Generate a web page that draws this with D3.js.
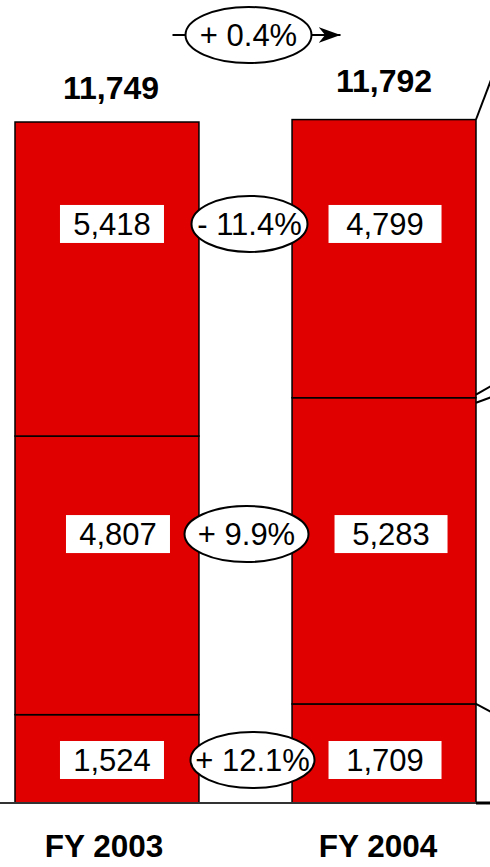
<!DOCTYPE html>
<html>
<head>
<meta charset="utf-8">
<script src="https://cdn.jsdelivr.net/npm/d3@7"></script>
<style>
  html, body { margin: 0; padding: 0; background: #fff; }
  svg { display: block; font-family: "Liberation Sans", Arial, sans-serif; }
</style>
</head>
<body>
<svg id="chart"></svg>
<script>
// data
const years = ["FY 2003", "FY 2004"];
const bottomValues = [1524, 1709];
const middleValues = [4807, 5283];
const topValues = [5418, 4799];
const totals = [11749, 11792];
const rowChanges = ["+ 12.1%", "+ 9.9%", "- 11.4%"]; // bottom, middle, top
const totalChange = "+ 0.4%";

const width = 490, height = 867;
const baseY = 803;

const svg = d3.select("#chart").attr("width", width).attr("height", height);

const x = d3.scaleBand().domain(years).range([15, 476]).paddingInner(0.336).paddingOuter(0);
const y = d3.scaleLinear().domain([0, 13854]).range([baseY, 0]);

// build stacked rows
const rows = [bottomValues, middleValues, topValues];
const stackData = years.map((yr, i) => {
  let acc = 0;
  return rows.map((vals, r) => {
    const seg = { year: yr, row: r, y0: acc, y1: acc + vals[i], value: vals[i], bar: i };
    acc += vals[i];
    return seg;
  });
}).flat();

// segments
svg.append("g").selectAll("rect")
  .data(stackData)
  .enter()
  .append("rect")
  .attr("x", d => x(d.year))
  .attr("y", d => y(d.y1))
  .attr("width", x.bandwidth())
  .attr("height", d => y(d.y0) - y(d.y1))
  .attr("fill", "#e00000")
  .attr("stroke", "#000")
  .attr("stroke-width", 1.5);

// baseline
svg.append("line")
  .attr("x1", 0).attr("x2", width)
  .attr("y1", baseY).attr("y2", baseY)
  .attr("stroke", "#333").attr("stroke-width", 2);
svg.append("line")
  .attr("x1", x(years[1]) + x.bandwidth()).attr("x2", width)
  .attr("y1", baseY).attr("y2", baseY)
  .attr("stroke", "#000").attr("stroke-width", 3);

// connector lines toward the legend (off to the right)
const rEdge = x(years[1]) + x.bandwidth();
const b2 = bottomValues[1], m2 = b2 + middleValues[1], t2 = totals[1];
const connectors = [
  [[rEdge, y(t2)], [width + 5, y(t2) - 50]],
  [[rEdge, y(m2) - 3], [width + 5, y(m2) - 14]],
  [[rEdge, y(m2) + 5], [width + 5, y(m2) - 2]],
  [[rEdge, y(b2)], [width + 5, y(b2) + 10]]
];
svg.append("g").selectAll("path")
  .data(connectors)
  .enter()
  .append("path")
  .attr("d", d => d3.line()(d))
  .attr("fill", "none")
  .attr("stroke", "#000")
  .attr("stroke-width", 2);

// label rows: vertical positions in data units
const rowLabelAt = [742, 4640, 9990];
const boxW = [104, 113];
const rowShift = [0, 6, 0];
const labels = svg.append("g");
stackData.forEach(d => {
  const cx = x(d.year) + x.bandwidth() / 2 + 5 + (d.bar === 1 ? -4 : 0) + rowShift[d.row];
  const cy = y(rowLabelAt[d.row]);
  const w = boxW[d.bar];
  labels.append("rect")
    .attr("x", cx - w / 2).attr("y", cy - 19)
    .attr("width", w).attr("height", 38)
    .attr("fill", "#fff");
  labels.append("text")
    .attr("x", cx).attr("y", cy + 11)
    .attr("text-anchor", "middle")
    .attr("font-size", 31)
    .attr("fill", "#000")
    .text(d3.format(",")(d.value));
});

// change ellipses between the bars
const gapX = (x(years[0]) + x.bandwidth() + x(years[1])) / 2;
const ellipseDx = [7, 1, 4];
const ellipseRx = [62, 62, 58];
rowChanges.forEach((t, r) => {
  const cx = gapX + ellipseDx[r];
  const cy = y(rowLabelAt[r]);
  svg.append("ellipse")
    .attr("cx", cx).attr("cy", cy)
    .attr("rx", ellipseRx[r]).attr("ry", 28)
    .attr("fill", "#fff").attr("stroke", "#000").attr("stroke-width", 2);
  svg.append("text")
    .attr("x", cx).attr("y", cy + 11)
    .attr("text-anchor", "middle")
    .attr("font-size", 31)
    .text(t);
});

// total change with arrow
const topCx = gapX + 3, topCy = 35;
svg.append("defs").append("marker")
  .attr("id", "arrow")
  .attr("viewBox", "0 0 10 10")
  .attr("refX", 10).attr("refY", 5)
  .attr("markerWidth", 22).attr("markerHeight", 16)
  .attr("markerUnits", "userSpaceOnUse")
  .attr("orient", "auto")
  .attr("preserveAspectRatio", "none")
  .append("path")
  .attr("d", "M0,0 L10,5 L0,10 L3,5 Z")
  .attr("fill", "#000");
svg.append("line")
  .attr("x1", topCx - 76).attr("x2", topCx + 92)
  .attr("y1", topCy).attr("y2", topCy)
  .attr("stroke", "#000").attr("stroke-width", 2)
  .attr("marker-end", "url(#arrow)");
svg.append("ellipse")
  .attr("cx", topCx).attr("cy", topCy)
  .attr("rx", 63).attr("ry", 28)
  .attr("fill", "#fff").attr("stroke", "#000").attr("stroke-width", 2);
svg.append("text")
  .attr("x", topCx).attr("y", topCy + 11)
  .attr("text-anchor", "middle")
  .attr("font-size", 31)
  .text(totalChange);

// totals above bars
const totalDy = [-23, -28];
svg.append("g").selectAll("text")
  .data(totals)
  .enter()
  .append("text")
  .attr("x", (d, i) => x(years[i]) + x.bandwidth() / 2 + (i === 0 ? 4 : 0))
  .attr("y", (d, i) => y(d) + totalDy[i])
  .attr("text-anchor", "middle")
  .attr("font-size", 32)
  .attr("font-weight", "bold")
  .text(d => d3.format(",")(d));

// category labels
svg.append("g").selectAll("text")
  .data(years)
  .enter()
  .append("text")
  .attr("x", (d, i) => x(d) + x.bandwidth() / 2 - (i === 0 ? 3 : 6))
  .attr("y", 857)
  .attr("text-anchor", "middle")
  .attr("font-size", 31.5)
  .attr("font-weight", "bold")
  .text(d => d);
</script>
</body>
</html>
